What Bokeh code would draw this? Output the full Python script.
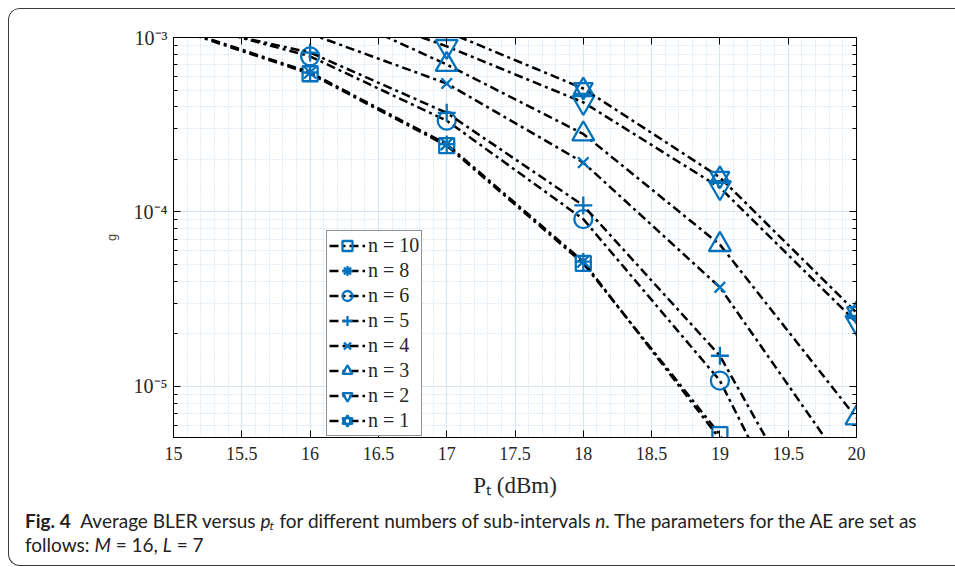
import numpy as np
from bokeh.plotting import figure
from bokeh.layouts import column
from bokeh.models import (Legend, LegendItem, LinearAxis, LogAxis, SingleIntervalTicker,
                          FixedTicker, CustomJSTickFormatter, Range1d, Div)
from bokeh.embed import file_html
from bokeh.resources import INLINE

# ---------------- data ----------------
pt = [15, 16, 17, 18, 19, 20]
bler_n10 = [1.13e-3, 6.2e-4, 2.40e-4, 5.07e-5, 5.3e-6, 1.5e-7]
bler_n8 = [1.15e-3, 6.3e-4, 2.45e-4, 5.20e-5, 5.0e-6, 1.8e-7]
bler_n6 = [1.27e-3, 7.8e-4, 3.34e-4, 9.10e-5, 1.08e-5, 3.0e-7]
bler_n5 = [1.22e-3, 8.2e-4, 3.70e-4, 1.09e-4, 1.50e-5, 6.0e-7]
bler_n4 = [1.75e-3, 1.05e-3, 5.45e-4, 1.92e-4, 3.70e-5, 2.8e-6]
bler_n3 = [2.50e-3, 1.60e-3, 7.00e-4, 2.80e-4, 6.50e-5, 6.6e-6]
bler_n2 = [2.80e-3, 1.70e-3, 8.90e-4, 4.25e-4, 1.38e-4, 2.33e-5]
bler_n1 = [3.50e-3, 2.00e-3, 1.08e-3, 5.10e-4, 1.58e-4, 2.65e-5]

series_labels = ["n = 10", "n = 8", "n = 6", "n = 5", "n = 4", "n = 3", "n = 2", "n = 1"]
series_values = [bler_n10, bler_n8, bler_n6, bler_n5, bler_n4, bler_n3, bler_n2, bler_n1]
series_markers = [["square"], ["asterisk"], ["circle"], ["cross"], ["x"],
                  ["triangle"], ["inverted_triangle"], ["triangle", "inverted_triangle"]]
marker_sizes = {"square": 15, "asterisk": 17, "circle": 18, "cross": 18, "x": 15,
                "triangle": 22, "inverted_triangle": 22}

# caption pieces: (text, style)
caption_line1 = [("Fig. 4", "b"), ("\u2002Average BLER versus ", ""), ("p\u209c", "i"),
                 (" for different numbers of sub-intervals ", ""), ("n", "i"),
                 (". The parameters for the AE are set as", "")]
caption_line2 = [("follows: ", ""), ("M", "i"), (" = 16, ", ""), ("L", "i"), (" = 7", "")]

x_lo, x_hi = 15, 20
y_lo, y_hi = 5.1e-6, 1e-3
y_major = [1e-5, 1e-4, 1e-3]
y_minor = [k * 10.0 ** e for e in (-6, -5, -4) for k in range(2, 10)]

BLUE = "#0072BD"
SERIF = "Liberation Serif"

p = figure(width=946, height=500, x_range=Range1d(x_lo, x_hi), y_range=Range1d(y_lo, y_hi),
           y_axis_type="log", output_backend="svg", toolbar_location=None,
           min_border_left=164, min_border_right=99, min_border_top=28, min_border_bottom=72,
           background_fill_color="white", border_fill_color="white")
p.outline_line_color = "black"
p.outline_line_width = 1

# axes
x_ticker = SingleIntervalTicker(interval=0.5, num_minor_ticks=5)
y_ticker = FixedTicker(ticks=y_major, minor_ticks=y_minor)
p.xaxis.ticker = x_ticker
p.xaxis.formatter = CustomJSTickFormatter(code="return String(Number(tick.toFixed(1)));")
p.yaxis.ticker = y_ticker
p.yaxis.formatter = CustomJSTickFormatter(code="""
const sup = {'-':'\u207b','0':'\u2070','1':'\u00b9','2':'\u00b2','3':'\u00b3','4':'\u2074','5':'\u2075','6':'\u2076','7':'\u2077','8':'\u2078','9':'\u2079'};
const e = Math.round(Math.log10(tick));
return '10' + String(e).split('').map(c => sup[c]).join('');
""")
for ax in (p.xaxis, p.yaxis):
    ax.axis_line_color = "black"
    ax.major_tick_in = 7
    ax.major_tick_out = 0
    ax.minor_tick_in = 4
    ax.minor_tick_out = 0
    ax.major_tick_line_color = "black"
    ax.minor_tick_line_color = "black"
    ax.major_label_text_font = SERIF
    ax.major_label_text_color = "#262626"
p.xaxis.minor_tick_line_color = None
p.xaxis.major_label_text_font_size = "18px"
p.xaxis.major_label_standoff = 9
p.yaxis.major_label_text_font_size = "20px"
p.yaxis.major_label_standoff = 6

p.xaxis.axis_label = "P\u209c (dBm)"
p.xaxis.axis_label_text_font = SERIF
p.xaxis.axis_label_text_font_size = "23px"
p.xaxis.axis_label_text_font_style = "normal"
p.xaxis.axis_label_text_color = "#262626"
p.xaxis.axis_label_standoff = 10

p.yaxis.axis_label = "g"
p.yaxis.axis_label_text_font = "DejaVu Sans"
p.yaxis.axis_label_text_font_size = "12px"
p.yaxis.axis_label_text_font_style = "normal"
p.yaxis.axis_label_text_color = "#444444"
p.yaxis.axis_label_standoff = 12

empty = CustomJSTickFormatter(code="return '';")
ax_top = LinearAxis(ticker=x_ticker, formatter=empty, major_tick_in=7, major_tick_out=0,
                    minor_tick_line_color=None, axis_line_color="black",
                    major_label_text_font_size="1px")
ax_right = LogAxis(ticker=y_ticker, formatter=empty, major_tick_in=7, major_tick_out=0,
                   minor_tick_in=4, minor_tick_out=0, axis_line_color="black",
                   major_label_text_font_size="1px")
p.add_layout(ax_top, "above")
p.add_layout(ax_right, "right")

# grids
for g in (p.xgrid, p.ygrid):
    g.grid_line_color = "#d8e5f1"
    g.grid_line_width = 1
    g.minor_grid_line_color = "#c4d8ec"
    g.minor_grid_line_dash = "1 2"
    g.minor_grid_line_width = 1

# series
items = []
x_arr = np.array(pt, dtype=float)
for lab, vals, mks in zip(series_labels, series_values, series_markers):
    y_arr = np.array(vals)
    rl = p.line(x_arr, y_arr, line_color="black", line_width=2.5, line_dash="9 4 3 4")
    keep = (y_arr >= y_lo) & (y_arr <= y_hi)
    rends = [rl]
    for mk in mks:
        rs = p.scatter(x_arr[keep], y_arr[keep], marker=mk,
                       size=marker_sizes[mk] - (3 if len(mks) > 1 else 0),
                       line_color=BLUE, fill_color=None, line_width=2.3)
        rends.append(rs)
    items.append(LegendItem(label=lab, renderers=rends))

legend = Legend(items=items, location=(153, 1), orientation="vertical",
                label_text_font=SERIF, label_text_font_size="20px", label_text_color="#262626",
                glyph_width=36, glyph_height=25, label_height=22, spacing=0, padding=2,
                label_standoff=3, margin=0, border_line_color="#262626", border_line_width=1,
                background_fill_color="white", background_fill_alpha=1.0)
p.add_layout(legend)


# caption
def spans(pieces):
    out = []
    for txt, st in pieces:
        css = "white-space:pre;"
        if st == "b":
            css += "font-weight:bold;"
        elif st == "i":
            css += "font-style:italic;"
        out.append('<span style="%s">%s</span>' % (css, txt))
    return "".join(out)


caption_html = '<div style="white-space:nowrap">%s</div><div style="white-space:nowrap">%s</div>' % (
    spans(caption_line1), spans(caption_line2))
cap = Div(text=caption_html, width=920, height=56, margin=(0, 0, 0, 16),
          styles={"font-family": "Lato, 'Open Sans', sans-serif", "font-size": "19px",
                  "line-height": "24px", "color": "#222222"})

layout = column(p, cap, spacing=0)
layout.styles = {"margin-left": "8px", "margin-top": "8px",
                 "border-top": "1px solid #3a3a3a", "border-left": "1px solid #3a3a3a",
                 "border-bottom": "1px solid #3a3a3a", "border-top-left-radius": "12px",
                 "border-bottom-left-radius": "12px", "overflow": "hidden",
                 "background": "white"}

open("out.html", "w", encoding="utf-8").write(file_html(layout, INLINE))
